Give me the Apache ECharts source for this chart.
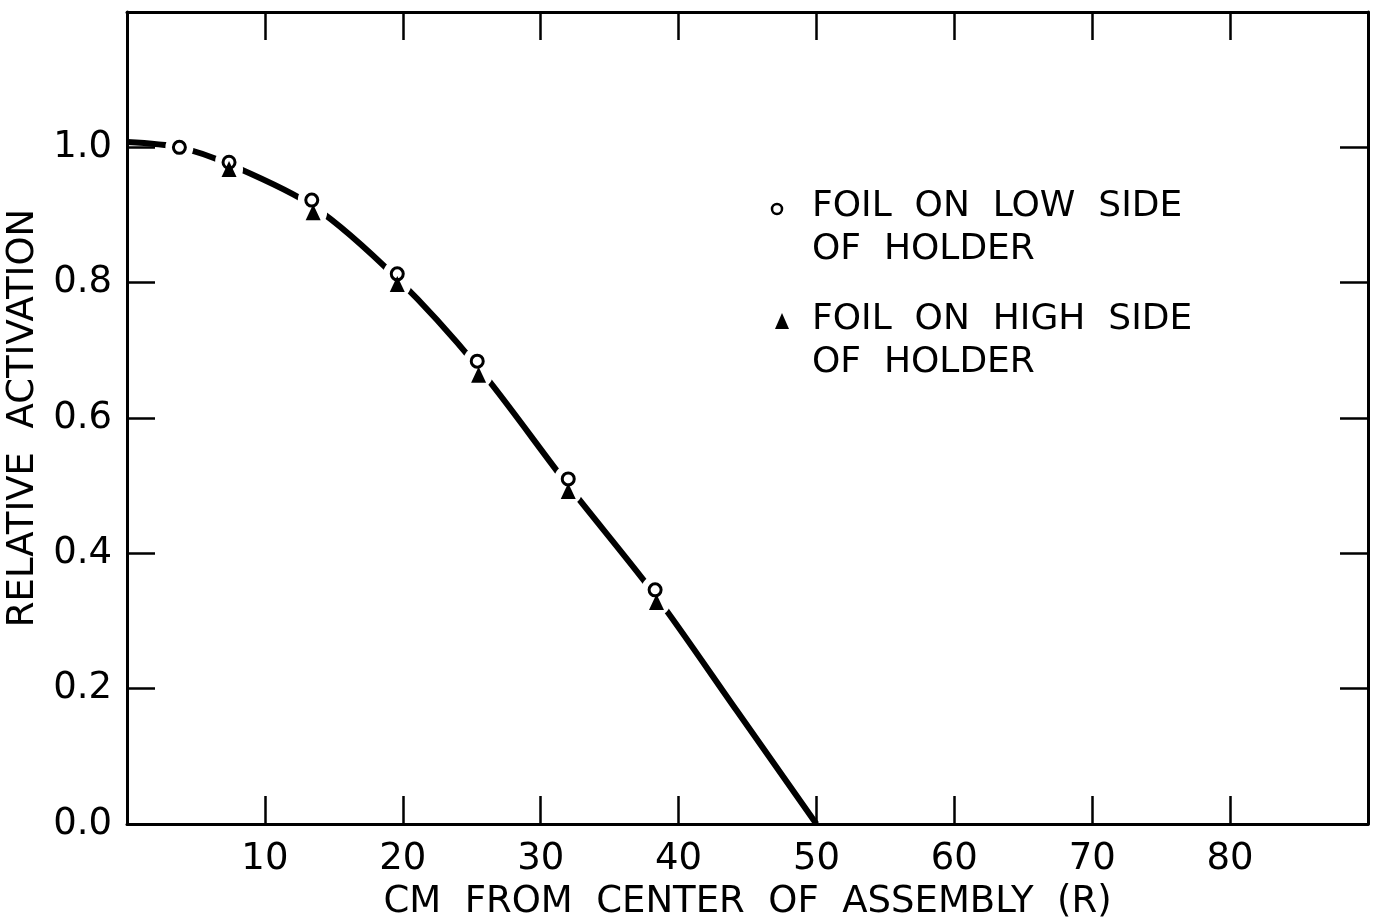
<!DOCTYPE html>
<html>
<head>
<meta charset="utf-8">
<title>Relative activation vs distance from center</title>
<script src="https://cdn.jsdelivr.net/npm/echarts@6/dist/echarts.min.js"></script>
<style>
  html, body { margin: 0; padding: 0; background: #fff; }
  #chart { width: 1375px; height: 919px; }
</style>
</head>
<body>
<div id="chart"></div>
<script>
// data
const lowSideX = [3.8, 7.4, 13.4, 19.6, 25.4, 32.0, 38.3];
const lowSideY = [1.0, 0.978, 0.922, 0.813, 0.684, 0.51, 0.346];
const highSideX = [7.4, 13.5, 19.6, 25.5, 32.0, 38.4];
const highSideY = [0.968, 0.904, 0.798, 0.664, 0.492, 0.328];
// the drawn curve
const curveX = [0, 3.8, 7.4, 13.5, 19.6, 25.5, 32.0, 38.35, 44.2, 50];
const curveY = [1.008, 1.0, 0.975, 0.913, 0.806, 0.674, 0.5, 0.337, 0.168, 0];
// ticks
const xTicks = [10, 20, 30, 40, 50, 60, 70, 80];
const yTicks = [0.2, 0.4, 0.6, 0.8, 1.0];
const yLabels = [0, 0.2, 0.4, 0.6, 0.8, 1.0];

const FONT = 'DejaVu Sans';

function zip(xs, ys) {
  return xs.map((x, i) => [x, ys[i]]);
}

function drawChart() {
  const chartDom = document.getElementById('chart');
  const myChart = echarts.init(chartDom, null, { renderer: 'canvas' });

  const axisLine = { show: true, onZero: false, lineStyle: { color: '#000', width: 3 } };
  const tickStyle = { color: '#000', width: 2.5 };

  const option = {
    backgroundColor: '#fff',
    animation: false,
    grid: { left: 127, right: 7, top: 12, bottom: 95, outerBoundsMode: 'none' },
    xAxis: [
      {
        type: 'value',
        position: 'bottom',
        min: 0,
        max: 90,
        axisLine: axisLine,
        axisTick: { show: true, inside: true, length: 28, lineStyle: tickStyle, customValues: xTicks },
        axisLabel: { customValues: xTicks, margin: 17, fontSize: 37, color: '#000', fontFamily: FONT },
        splitLine: { show: false },
        name: 'CM  FROM  CENTER  OF  ASSEMBLY  (R)',
        nameLocation: 'middle',
        nameGap: 60,
        nameTextStyle: { fontSize: 37, color: '#000', fontFamily: FONT }
      },
      {
        type: 'value',
        position: 'top',
        min: 0,
        max: 90,
        axisLine: axisLine,
        axisTick: { show: true, inside: true, length: 28, lineStyle: tickStyle, customValues: xTicks },
        axisLabel: { show: false },
        splitLine: { show: false }
      }
    ],
    yAxis: [
      {
        type: 'value',
        position: 'left',
        min: 0,
        max: 1.2,
        axisLine: axisLine,
        axisTick: { show: true, inside: true, length: 28, lineStyle: tickStyle, customValues: yTicks },
        axisLabel: {
          customValues: yLabels,
          margin: 15,
          fontSize: 37,
          color: '#000',
          fontFamily: FONT,
          formatter: v => v.toFixed(1)
        },
        splitLine: { show: false },
        name: 'RELATIVE  ACTIVATION',
        nameLocation: 'middle',
        nameGap: 76,
        nameTextStyle: { fontSize: 37, color: '#000', fontFamily: FONT }
      },
      {
        type: 'value',
        position: 'right',
        min: 0,
        max: 1.2,
        axisLine: axisLine,
        axisTick: { show: true, inside: true, length: 28, lineStyle: tickStyle, customValues: yTicks },
        axisLabel: { show: false },
        splitLine: { show: false }
      }
    ],
    series: [
      {
        name: 'curve',
        type: 'line',
        data: zip(curveX, curveY),
        smooth: 0.3,
        showSymbol: false,
        lineStyle: { color: '#000', width: 6 },
        z: 1,
        silent: true
      },
      {
        // white gaps in the curve around the points
        name: 'gap',
        type: 'scatter',
        data: zip(lowSideX, lowSideY).concat(zip(highSideX, highSideY)),
        symbol: 'circle',
        symbolSize: 28,
        itemStyle: { color: '#ffffff', opacity: 1 },
        z: 5,
        silent: true
      },
      {
        name: 'FOIL ON LOW SIDE OF HOLDER',
        type: 'scatter',
        data: zip(lowSideX, lowSideY),
        symbol: 'circle',
        symbolSize: 12,
        itemStyle: { color: '#fff', borderColor: '#000', borderWidth: 3, opacity: 1 },
        z: 6
      },
      {
        name: 'FOIL ON HIGH SIDE OF HOLDER',
        type: 'scatter',
        data: zip(highSideX, highSideY),
        symbol: 'triangle',
        symbolSize: [15, 16],
        itemStyle: { color: '#000', opacity: 1 },
        z: 7
      }
    ],
    // key, drawn as in the original figure
    graphic: [
      { type: 'circle', shape: { cx: 777, cy: 209, r: 5 }, style: { fill: '#fff', stroke: '#000', lineWidth: 2.5 } },
      { type: 'polygon', shape: { points: [[782, 313], [775, 329], [789, 329]] }, style: { fill: '#000' } },
      { type: 'text', x: 812, y: 207, style: { text: 'FOIL  ON  LOW  SIDE', font: '36px "DejaVu Sans"', fill: '#000', verticalAlign: 'middle' } },
      { type: 'text', x: 812, y: 250, style: { text: 'OF  HOLDER', font: '36px "DejaVu Sans"', fill: '#000', verticalAlign: 'middle' } },
      { type: 'text', x: 812, y: 320, style: { text: 'FOIL  ON  HIGH  SIDE', font: '36px "DejaVu Sans"', fill: '#000', verticalAlign: 'middle' } },
      { type: 'text', x: 812, y: 363, style: { text: 'OF  HOLDER', font: '36px "DejaVu Sans"', fill: '#000', verticalAlign: 'middle' } }
    ]
  };

  option && myChart.setOption(option);
}

drawChart();
</script>
</body>
</html>
